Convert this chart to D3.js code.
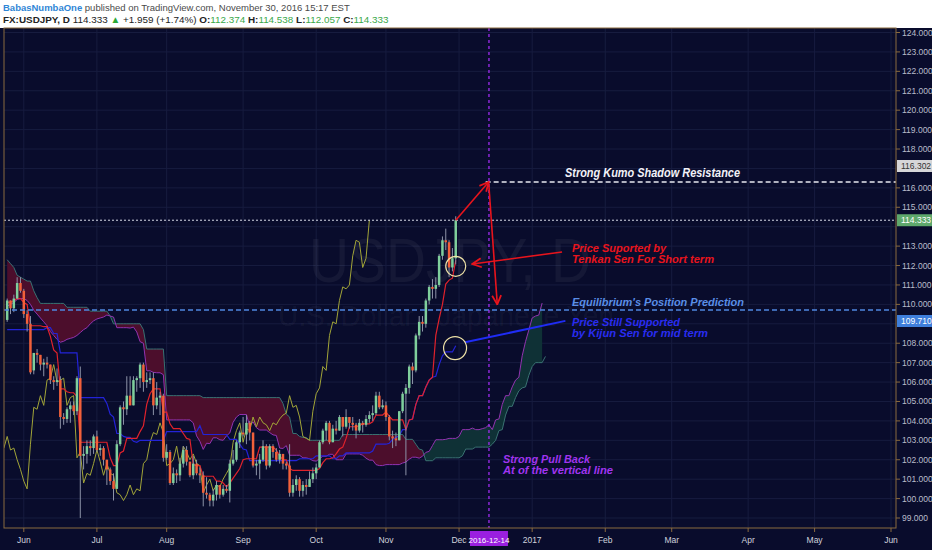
<!DOCTYPE html>
<html><head><meta charset="utf-8">
<script src="https://cdn.jsdelivr.net/npm/d3@7"></script>
<style>html,body{margin:0;padding:0;background:#fff;overflow:hidden}svg{display:block}</style>
</head><body>
<svg id="c" width="932" height="550"></svg>
<script>
// ---------- data (bar index 0 = 2016-06-01, weekdays only) ----------
const firstBar = -5; // 2016-05-25
const opens  = [109.2,110.2,109.8,110.3,111.1,110.7,109.5,109.0,106.6,107.5,107.4,106.9,107.0,106.9,106.1,106.0,106.1,104.2,104.1,104.6,104.8,104.5,106.2,102.2,102.3,102.7,102.6,103.2,102.5,102.6,102.0,101.5,100.9,100.5,102.8,104.7,104.6,105.3,104.8,106.1,106.2,106.9,106.0,106.1,106.2,104.8,105.2,105.3,102.1,102.4,100.8,101.3,101.2,101.8,102.5,101.9,101.2,101.8,101.3,101.2,100.3,100.2,99.9,100.2,100.7,100.2,100.5,100.4,101.8,102.0,102.9,103.4,103.3,103.9,103.4,101.7,101.8,102.0,102.7,101.7,102.7,102.4,102.0,102.3,101.8,101.7,100.3,100.7,101.0,100.4,100.7,100.6,101.0,101.3,101.6,102.9,103.5,103.9,102.9,103.6,103.5,104.2,103.7,104.2,103.9,103.8,103.5,103.9,103.8,104.1,104.3,104.4,105.3,104.7,104.8,104.2,103.2,103.1,103.0,104.5,105.4,105.7,106.8,106.6,108.4,109.1,109.0,110.2,110.9,110.8,111.0,112.5,113.3,113.2,111.9,112.374];
const highs  = [110.3,110.2,110.5,111.4,111.4,110.8,109.7,109.4,107.5,107.7,107.4,107.2,107.3,106.9,106.3,106.7,106.3,104.4,104.7,105.0,105.0,106.3,106.8,102.7,103.0,103.0,103.3,103.5,102.8,102.7,102.0,101.6,101.3,103.0,104.8,105.0,106.3,106.3,106.3,106.3,107.0,107.0,106.5,106.5,106.5,106.0,105.5,105.4,102.8,102.5,101.6,101.5,102.1,102.7,102.7,101.9,102.2,102.0,101.6,101.4,101.1,100.3,100.5,100.9,100.7,100.7,100.7,102.0,102.5,103.0,103.5,104.2,104.3,104.0,103.4,102.0,102.3,103.0,102.8,102.8,102.8,102.6,102.5,102.3,101.9,102.8,101.0,101.2,101.1,100.9,101.0,101.4,101.6,101.8,103.0,103.6,104.0,104.0,103.8,104.0,104.3,104.2,104.6,104.2,104.2,103.9,104.1,104.0,104.3,104.5,104.8,105.5,105.5,105.1,105.0,104.3,103.5,103.4,104.5,105.5,105.9,106.9,107.0,108.5,109.4,109.4,110.3,111.0,111.3,111.4,112.6,113.5,113.9,113.3,112.9,114.538];
const lows   = [109.1,109.5,109.6,110.3,110.6,109.3,108.6,106.4,106.4,107.0,106.6,106.3,106.7,105.9,105.6,105.8,103.6,103.8,103.9,103.9,104.3,104.3,99.0,101.5,101.8,102.2,102.3,102.4,102.2,101.7,100.7,100.7,99.9,100.5,102.7,103.8,104.3,104.8,104.8,105.5,105.7,105.5,105.7,105.9,104.3,104.6,104.3,101.9,102.0,100.7,100.7,100.8,100.9,101.6,101.7,101.1,101.0,101.2,100.8,99.6,100.0,99.6,99.6,99.9,100.0,100.1,100.3,99.8,101.7,101.9,102.6,103.2,102.8,103.0,101.6,101.2,101.0,101.9,101.5,101.6,102.1,101.9,101.8,101.5,101.5,100.1,100.1,100.4,100.1,100.1,100.2,100.6,100.8,101.0,101.6,102.8,103.0,102.8,102.9,103.3,103.5,103.2,103.6,103.6,103.5,103.1,103.4,103.4,103.7,103.9,104.0,104.3,104.6,104.6,104.0,103.0,102.6,102.7,103.0,104.4,101.2,105.4,105.9,106.5,108.2,108.6,108.8,110.0,110.3,110.3,110.9,112.3,112.8,111.4,111.7,112.057];
const closes = [110.2,109.8,110.3,111.1,110.7,109.5,109.0,106.5,107.5,107.4,106.9,107.0,106.9,106.1,106.0,106.1,104.2,104.1,104.6,104.8,104.5,106.2,102.2,102.3,102.7,102.6,103.2,102.5,102.6,102.0,101.5,100.9,100.5,102.8,104.7,104.6,105.3,104.8,106.1,106.2,106.9,106.0,106.1,106.2,104.8,105.2,105.3,102.1,102.4,100.8,101.3,101.2,101.8,102.5,101.9,101.2,101.8,101.3,101.2,100.3,100.2,99.9,100.2,100.7,100.2,100.5,100.4,101.8,102.0,102.9,103.4,103.3,103.9,103.4,101.7,101.8,102.0,102.7,101.7,102.7,102.4,102.0,102.3,101.8,101.7,100.3,100.7,101.0,100.4,100.7,100.6,101.0,101.3,101.6,102.9,103.5,103.9,102.9,103.6,103.5,104.2,103.7,104.2,103.9,103.8,103.5,103.9,103.8,104.1,104.3,104.4,105.3,104.7,104.8,104.2,103.2,103.1,103.0,104.5,105.4,105.7,106.8,106.6,108.4,109.1,109.0,110.2,110.9,110.8,111.0,112.5,113.3,113.2,111.9,112.374,114.333];
// Ichimoku lines (same bar index as candles)
const tenkan = [110.1,110.1,110.2,110.3,110.3,110.1,110.0,108.9,108.9,108.9,108.9,108.85,108.85,108.35,107.65,107.5,105.65,105.65,105.5,105.45,105.45,105.25,102.9,102.9,102.9,102.9,102.9,102.9,102.9,102.9,102.9,102.1,101.7,101.7,102.35,102.45,103.1,103.1,103.1,103.1,103.45,103.75,104.85,105.4,105.65,105.65,105.65,104.45,104.45,103.85,103.6,103.6,103.6,103.35,103.1,103.05,101.75,101.7,101.7,101.15,101.15,101.15,101.15,100.9,100.9,100.8,100.6,100.8,101.05,101.3,101.55,102.0,102.05,102.05,102.05,102.05,102.65,102.65,102.65,102.65,102.65,102.5,102.2,102.0,102.0,101.55,101.45,101.45,101.45,101.45,101.45,101.45,101.45,101.45,101.55,101.85,102.05,102.05,102.1,102.3,102.55,102.65,103.1,103.7,103.7,103.7,103.75,103.85,103.85,103.85,103.95,104.3,104.3,104.3,104.45,104.25,104.05,104.05,104.05,104.05,103.55,104.05,104.1,104.85,105.3,105.3,105.75,106.1,106.25,108.4,109.25,110.0,111.05,111.25,111.35,112.27];
const kijun  = [108.7,108.7,108.7,108.7,108.7,108.7,108.7,108.7,108.7,108.7,108.7,108.7,108.8,108.8,108.5,108.5,107.5,107.5,107.5,107.5,107.5,107.5,105.2,105.2,105.2,105.2,105.2,105.2,105.2,105.2,104.9,104.35,104.2,103.35,103.35,103.2,103.15,103.15,102.95,102.9,103.0,103.0,103.0,103.0,103.0,103.0,103.0,103.0,103.45,103.45,103.45,103.45,103.45,103.45,103.45,103.45,103.45,103.45,103.75,103.3,103.3,103.3,103.3,103.3,103.3,103.3,103.3,103.05,103.05,103.05,102.8,102.55,102.5,101.95,101.95,101.95,101.95,101.95,101.95,101.95,101.95,101.95,101.95,101.95,101.95,101.95,101.95,101.95,102.05,102.05,102.05,102.05,102.05,102.2,102.2,102.2,102.2,102.2,102.05,102.05,102.2,102.2,102.35,102.35,102.35,102.35,102.35,102.35,102.35,102.35,102.45,102.8,102.8,102.8,102.8,102.85,103.05,103.15,103.25,103.55,103.55,104.05,104.1,104.85,105.3,105.3,105.75,106.1,106.25,106.3,106.9,107.35,107.55,107.55,107.55,107.87];
// Senkou spans, already displaced 26 bars ahead (index -5 .. 156)
const senkouA = [109.9,110.0,110.1,110.25,110.3,110.3,110.2,110.0,109.7,109.5,109.3,109.1,108.9,108.6,108.4,108.2,108.05,108.1,108.2,108.25,108.3,108.4,108.55,108.7,108.8,109.0,109.15,109.25,109.3,109.35,109.45,
 109.4,109.35,108.8,108.8,108.8,108.8,108.78,108.83,108.58,108.08,108.0,106.58,106.58,106.5,106.48,106.48,106.38,104.05,104.05,104.05,104.05,104.05,104.05,104.05,104.05,103.9,103.23,102.95,102.53,102.85,102.83,103.13,103.13,103.03,103.0,103.23,103.38,103.93,104.2,104.33,104.33,104.33,103.73,103.95,103.65,103.53,103.53,103.53,103.4,103.28,103.25,102.6,102.58,102.73,102.23,102.23,102.23,102.23,102.1,102.1,102.05,101.95,101.93,102.05,102.18,102.18,102.28,102.28,102.0,102.0,102.0,102.3,102.3,102.3,102.3,102.3,102.23,102.08,101.98,101.98,101.75,101.7,101.7,101.75,101.75,101.75,101.75,101.75,101.83,101.88,102.03,102.13,102.13,102.08,102.18,102.38,102.43,102.73,103.03,103.03,103.03,103.05,103.1,103.1,103.1,103.2,103.55,103.55,103.55,103.63,103.55,103.55,103.6,103.65,103.8,103.55,104.05,104.1,104.85,105.3,105.3,105.75,106.1,106.25,107.35,108.08,108.68,109.3,109.4,109.45,110.07];
const senkouB = [112.3,112.1,111.9,111.5,111.4,111.3,111.2,111.2,110.7,110.35,110.05,110.05,110.05,110.05,110.05,110.05,110.05,110.05,109.85,109.85,109.85,109.85,109.85,109.85,109.85,109.65,109.65,109.65,109.65,109.65,109.65,
 109.4,109.0,109.0,109.0,109.0,109.0,109.0,109.0,109.0,109.0,108.7,107.7,107.7,107.7,107.7,107.7,107.7,105.3,105.3,105.3,105.3,105.3,105.3,105.3,105.3,105.3,105.3,105.3,105.2,105.2,105.2,105.2,105.2,105.2,105.2,105.2,105.2,105.2,105.2,105.2,105.2,105.2,105.2,105.2,105.2,105.2,105.2,105.2,105.2,105.2,105.2,105.2,104.9,104.35,104.2,103.35,103.35,103.2,103.15,103.15,103.0,103.0,103.0,103.0,103.0,103.0,103.0,103.0,103.0,103.0,103.3,103.3,103.3,103.3,103.3,103.3,103.3,103.3,103.3,103.3,103.3,103.3,103.3,103.3,103.3,103.3,103.3,103.3,103.3,103.05,103.05,103.05,102.8,102.55,102.5,101.95,101.95,101.95,102.1,102.1,102.1,102.1,102.1,102.1,102.1,102.1,102.2,102.55,102.55,102.55,102.65,102.65,102.65,102.65,102.65,102.8,103.0,103.5,103.55,104.3,104.75,104.75,105.2,105.55,105.7,105.75,106.35,106.8,107.0,107.0,107.0,107.32];
const chikouShift = 26;
const monthTicks = [["Jun",0],["Jul",22],["Aug",43],["Sep",66],["Oct",88],["Nov",109],["Dec",131],["2017",153],["Feb",175],["Mar",195],["Apr",218],["May",238],["Jun",261]];
const markDate = ["2016-12-14",140];
const priceTicks = [99,100,101,102,103,104,105,106,107,108,110,111,112,113,115,116,118,119,120,121,122,123,124];
const kumoResistance = 116.302, lastPrice = 114.333, equilibrium = 109.710;

// ---------- layout ----------
const svg = d3.select("#c");
const L = 4, R = 896, T = 28, B = 528;
const x = d3.scaleLinear().domain([0, 261]).range([23.8, 891]);
const y = d3.scaleLinear().domain([99, 124]).range([518, 32.5]);
const BG = "#090c2c";

svg.append("rect").attr("width",932).attr("height",550).attr("fill","#fff");
svg.append("rect").attr("x",0).attr("y",T).attr("width",932).attr("height",550-T).attr("fill",BG);

// header
const h1 = svg.append("text").attr("x",3).attr("y",11).attr("font-family","Liberation Sans, Arial").attr("font-size",9.5).attr("fill","#4a4a4a");
h1.append("tspan").attr("fill","#2f86d6").attr("font-weight","bold").text("BabasNumbaOne");
h1.append("tspan").text(" published on TradingView.com, November 30, 2016 15:17 EST");
const h2 = svg.append("text").attr("x",3).attr("y",23).attr("font-family","Liberation Sans, Arial").attr("font-size",9.9).attr("fill","#222");
h2.append("tspan").attr("font-weight","bold").text("FX:USDJPY, D ");
h2.append("tspan").text("114.333 ");
h2.append("tspan").attr("fill","#2aa836").text("▲");
h2.append("tspan").text(" +1.959 (+1.74%) ");
[["O:","112.374"],["H:","114.538"],["L:","112.057"],["C:","114.333"]].forEach(([k,v],j)=>{
  h2.append("tspan").attr("font-weight","bold").text(k);
  h2.append("tspan").attr("fill","#3aa84a").text(j<3?v+" ":v);
});

const plot = svg.append("g");
svg.append("clipPath").attr("id","pc").append("rect").attr("x",L).attr("y",T).attr("width",R-L).attr("height",B-T);
plot.attr("clip-path","url(#pc)");

// grid
plot.selectAll(".gh").data(d3.range(99,125)).join("line")
  .attr("x1",L).attr("x2",R).attr("y1",d=>y(d)).attr("y2",d=>y(d)).attr("stroke","#171c3f").attr("stroke-width",1);
plot.selectAll(".gv").data(monthTicks).join("line")
  .attr("x1",d=>x(d[1])).attr("x2",d=>x(d[1])).attr("y1",T).attr("y2",B).attr("stroke","#171c3f");

// watermark
plot.append("text").attr("x",450).attr("y",282).attr("text-anchor","middle").attr("font-family","Liberation Sans, Arial")
  .attr("font-size",63).attr("fill","#ffffff").attr("fill-opacity",0.05).attr("textLength",282).attr("lengthAdjust","spacingAndGlyphs").text("USDJPY, D");
plot.append("text").attr("x",446).attr("y",326).attr("text-anchor","middle").attr("font-family","Liberation Sans, Arial")
  .attr("font-size",30).attr("fill","#ffffff").attr("fill-opacity",0.05).attr("textLength",336).attr("lengthAdjust","spacingAndGlyphs").text("U.S. Dollar / Japanese Yen");

// cloud fill
function cloudPolys(){
  const polys=[]; let cur=null;
  for(let i=0;i<senkouA.length;i++){
    const a=senkouA[i], b=senkouB[i], s=a>=b?1:-1, xi=i+firstBar;
    if(!cur){cur={s,top:[[xi,a]],bot:[[xi,b]]};continue;}
    if(s!==cur.s){
      const a0=senkouA[i-1], b0=senkouB[i-1];
      const t=(a0-b0)/((a0-b0)-(a-b)); const xm=xi-1+t, ym=a0+t*(a-a0);
      cur.top.push([xm,ym]); cur.bot.push([xm,ym]); polys.push(cur);
      cur={s,top:[[xm,ym],[xi,a]],bot:[[xm,ym],[xi,b]]};
    } else {cur.top.push([xi,a]);cur.bot.push([xi,b]);}
  }
  polys.push(cur); return polys;
}
cloudPolys().forEach(p=>{
  const pts=p.top.concat(p.bot.slice().reverse()).map(d=>[x(d[0]),y(d[1])]);
  plot.append("path").attr("d","M"+pts.join("L")+"Z").attr("fill",p.s>0?"#0f3136":"#4c0e2c");
});
const line = d3.line().x(d=>x(d[0])).y(d=>y(d[1]));
plot.append("path").attr("d",line(senkouB.map((v,i)=>[i+firstBar,v]))).attr("fill","none").attr("stroke","#3a7272").attr("stroke-width",1);
plot.append("path").attr("d",line(senkouA.map((v,i)=>[i+firstBar,v]))).attr("fill","none").attr("stroke","#9233b0").attr("stroke-width",1);
plot.append("path").attr("d",line(closes.map((v,i)=>[i+firstBar-chikouShift,v]))).attr("fill","none").attr("stroke","#a2a538").attr("stroke-width",1);
plot.append("path").attr("d",line(kijun.map((v,i)=>[i+firstBar,v]))).attr("fill","none").attr("stroke","#2323d8").attr("stroke-width",1.2);
plot.append("path").attr("d",line(tenkan.map((v,i)=>[i+firstBar,v]))).attr("fill","none").attr("stroke","#e0222c").attr("stroke-width",1.2);

// candles
const bars = closes.map((c,i)=>({i:i+firstBar,o:opens[i],h:highs[i],l:lows[i],c}));
plot.selectAll(".wk").data(bars).join("line").attr("x1",d=>x(d.i)).attr("x2",d=>x(d.i))
  .attr("y1",d=>y(d.h)).attr("y2",d=>y(d.l)).attr("stroke","#8d93a8").attr("stroke-width",1);
plot.selectAll(".bd").data(bars).join("rect").attr("x",d=>x(d.i)-1.25).attr("width",2.5)
  .attr("y",d=>y(Math.max(d.o,d.c))).attr("height",d=>Math.max(1,Math.abs(y(d.o)-y(d.c))))
  .attr("fill",d=>d.c>=d.o?"#7fcf9c":"#f2603a");

// horizontal lines
plot.append("line").attr("x1",L).attr("x2",R).attr("y1",y(lastPrice)).attr("y2",y(lastPrice)).attr("stroke","#d8dce8").attr("stroke-dasharray","2,2");
plot.append("line").attr("x1",L).attr("x2",R).attr("y1",y(equilibrium)).attr("y2",y(equilibrium)).attr("stroke","#4f86e0").attr("stroke-width",1.3).attr("stroke-dasharray","5,3");
plot.append("line").attr("x1",x(139)).attr("x2",R).attr("y1",y(kumoResistance)).attr("y2",y(kumoResistance)).attr("stroke","#e8e8f0").attr("stroke-width",1.3).attr("stroke-dasharray","5,3");
// vertical date line
plot.append("line").attr("x1",x(markDate[1])).attr("x2",x(markDate[1])).attr("y1",T).attr("y2",B).attr("stroke","#a02cf0").attr("stroke-width",1.3).attr("stroke-dasharray","3,3");

// annotations
const defs = svg.append("defs");
defs.append("marker").attr("id","ar").attr("viewBox","0 0 10 10").attr("refX",9).attr("refY",5).attr("markerWidth",7).attr("markerHeight",7).attr("orient","auto-start-reverse")
  .append("path").attr("d","M1,1 L9,5 L1,9").attr("fill","none").attr("stroke","#e8141c").attr("stroke-width",1.6);
const red="#e8141c";
plot.append("line").attr("x1",x(130)).attr("y1",y(114.333)).attr("x2",x(139.9)).attr("y2",y(116.302)).attr("stroke",red).attr("stroke-width",1.6).attr("marker-end","url(#ar)");
plot.append("line").attr("x1",x(139.9)).attr("y1",y(116.302)).attr("x2",x(142.5)).attr("y2",y(110.0)).attr("stroke",red).attr("stroke-width",1.6).attr("marker-end","url(#ar)");
plot.append("line").attr("x1",x(162)).attr("y1",y(112.7)).attr("x2",x(135)).attr("y2",y(112.08)).attr("stroke",red).attr("stroke-width",1.6).attr("marker-end","url(#ar)");
plot.append("line").attr("x1",x(132.8)).attr("y1",y(108.05)).attr("x2",x(163)).attr("y2",y(109.15)).attr("stroke","#1f2cf5").attr("stroke-width",2);
plot.append("circle").attr("cx",x(130)).attr("cy",y(111.96)).attr("r",10).attr("fill","none").attr("stroke","#efe3a8").attr("stroke-width",1.2);
plot.append("circle").attr("cx",x(129.8)).attr("cy",y(107.75)).attr("r",11.5).attr("fill","none").attr("stroke","#efe3a8").attr("stroke-width",1.2);

function note(txt,xx,yy,col,len,size){
  plot.append("text").attr("x",xx).attr("y",yy).attr("font-family","Liberation Sans, Arial").attr("font-style","italic").attr("font-weight","bold")
    .attr("font-size",size||10.5).attr("fill",col).attr("textLength",len).attr("lengthAdjust","spacingAndGlyphs").text(txt);
}
note("Strong Kumo Shadow Resistance",565,177,"#f2f2f8",175,12);
note("Price Suported by",572,252,red,94);
note("Tenkan Sen For Short term",572,263,red,142);
note("Equilibrium's Position Prediction",572,306,"#5a8ee6",172,11);
note("Price Still Supported",572,326,"#2a2cf0",108);
note("by Kijun Sen for mid term",572,337,"#2a2cf0",136);
note("Strong Pull Back",503,463,"#a034f0",87);
note("At of the vertical line",503,474,"#a034f0",110);

// frame
svg.append("rect").attr("x",L).attr("y",T).attr("width",R-L).attr("height",B-T).attr("fill","none").attr("stroke","#8a6a3e").attr("stroke-width",1);

// y axis
const ax = svg.append("g").attr("font-family","Liberation Sans, Arial").attr("font-size",8.5);
priceTicks.forEach(v=>{
  ax.append("line").attr("x1",R).attr("x2",R+4).attr("y1",y(v)).attr("y2",y(v)).attr("stroke","#8a6a3e");
  ax.append("text").attr("x",R+6).attr("y",y(v)+3).attr("fill","#b9bccb").text(v.toFixed(3));
});
function tag(v,yy,bg,fg){
  ax.append("rect").attr("x",R+1).attr("y",yy-6).attr("width",35).attr("height",12).attr("fill",bg);
  ax.append("text").attr("x",R+5).attr("y",yy+3).attr("fill",fg).text(v.toFixed(3));
}
tag(kumoResistance,166,"#d6d6d8","#333");
tag(lastPrice,y(lastPrice),"#5ea86c","#fff");
tag(equilibrium,321,"#3f7fdc","#fff");

// x axis
const bx = svg.append("g").attr("font-family","Liberation Sans, Arial").attr("font-size",8.5);
monthTicks.forEach(([lab,i])=>{
  bx.append("line").attr("x1",x(i)).attr("x2",x(i)).attr("y1",B).attr("y2",B+4).attr("stroke","#8a6a3e");
  bx.append("text").attr("x",x(i)).attr("y",543).attr("text-anchor","middle").attr("fill","#d0d2dc").text(lab);
});
bx.append("rect").attr("x",x(markDate[1])-19).attr("y",B+3).attr("width",38).attr("height",15).attr("fill","#9a1fe0");
bx.append("text").attr("x",x(markDate[1])).attr("y",543).attr("text-anchor","middle").attr("fill","#fff").attr("font-size",8).text(markDate[0]);
</script>
</body></html>
